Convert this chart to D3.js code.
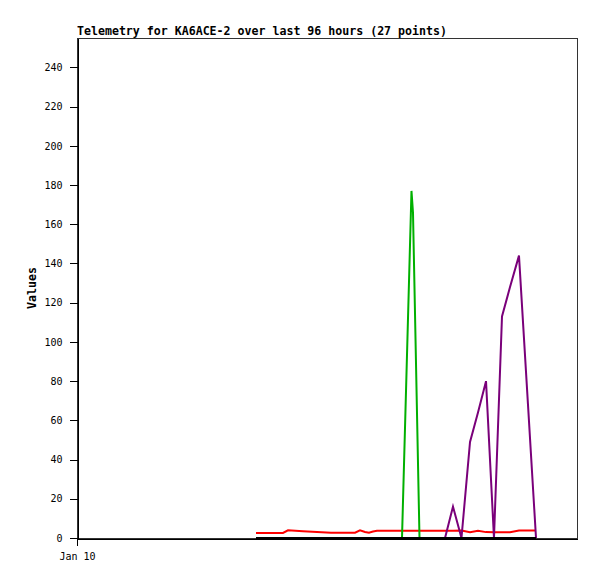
<!DOCTYPE html>
<html>
<head>
<meta charset="utf-8">
<script src="https://cdn.jsdelivr.net/npm/d3@7"></script>
<style>
  body { margin: 0; background: #fff; }
  svg { display: block; }
  text { font-family: "DejaVu Sans Mono", "Liberation Mono", monospace; }
</style>
</head>
<body>
<svg id="chart" width="597" height="579"></svg>
<script>
// ---- data ----
const titleText = "Telemetry for KA6ACE-2 over last 96 hours (27 points)";
const yLabel = "Values";
const startTime = new Date(2024, 0, 10, 0, 0, 0);
const windowHours = 96;
// hours after start time for each of the 27 points
const hours = [34.37, 39.55, 40.51, 43.39, 48.77, 53.38, 54.34, 55.30, 56.06, 56.83,
               57.60, 62.40, 64.22, 64.51, 65.76, 70.66, 72.19, 73.82, 75.46, 76.99,
               78.53, 80.06, 81.60, 83.14, 84.86, 86.59, 88.13];
const redValues = [2.6, 2.6, 3.9, 3.4, 2.7, 2.7, 3.9, 3.1, 2.7, 3.3,
                   3.7, 3.7, 3.7, 3.7, 3.7, 3.7, 3.7, 3.8, 3.0, 3.7,
                   3.0, 2.9, 2.9, 2.9, 3.8, 3.8, 3.8];
const greenValues = [0, 0, 0, 0, 0, 0, 0, 0, 0, 0,
                     0, 0, 177, 166, 0, 0, 0, 0, 0, 0,
                     0, 0, 0, 0, 0, 0, 0];
const purpleValues = [0, 0, 0, 0, 0, 0, 0, 0, 0, 0,
                      0, 0, 0, 0, 0, 0, 16, 0, 49, 64,
                      80, 0, 113, 128, 144, 68, 0];
const blackValues = [0, 0, 0, 0, 0, 0, 0, 0, 0, 0,
                     0, 0, 0, 0, 0, 0, 0, 0, 0, 0,
                     0, 0, 0, 0, 0, 0, 0];
const yTicks = [0, 20, 40, 60, 80, 100, 120, 140, 160, 180, 200, 220, 240];
const xTickLabels = ["Jan 10"];
const yMax = 255;

// series, in drawing order
const series = [
  { name: "red", values: redValues, color: "#ff0000" },
  { name: "green", values: greenValues, color: "#00b000" },
  { name: "purple", values: purpleValues, color: "#7a007a" },
  { name: "black", values: blackValues, color: "#000000" }
];

// ---- layout ----
const mLeft = 77, mRight = 577, mTop = 38, mBottom = 538;
const svg = d3.select("#chart");

const times = hours.map(h => new Date(startTime.getTime() + h * 3600e3));
const x = d3.scaleTime()
  .domain([startTime, new Date(startTime.getTime() + windowHours * 3600e3)])
  .range([mLeft, mRight]);
const y = d3.scaleLinear().domain([0, yMax]).range([mBottom, mTop]);

// frame
svg.append("rect")
  .attr("x", mLeft + 0.5).attr("y", mTop + 0.5)
  .attr("width", mRight - mLeft).attr("height", mBottom - mTop)
  .attr("fill", "none").attr("stroke", "#333").attr("stroke-width", 1)
  .attr("shape-rendering", "crispEdges");

// y axis
const yAxis = svg.append("g")
  .attr("transform", `translate(${mLeft + 0.5},0)`)
  .call(d3.axisLeft(y).tickValues(yTicks).tickSize(8).tickSizeOuter(0).tickPadding(7)
        .tickFormat(d3.format("d")));
yAxis.select(".domain").attr("stroke", "#000").attr("shape-rendering", "crispEdges");
yAxis.selectAll(".tick line").attr("stroke", "#000").attr("shape-rendering", "crispEdges");
yAxis.selectAll(".tick text").attr("font-size", "10px").attr("fill", "#000")
  .style("font-family", "'DejaVu Sans Mono', monospace");

// x axis
const xAxis = svg.append("g")
  .attr("transform", `translate(0,${mBottom + 0.5})`)
  .call(d3.axisBottom(x).tickValues([startTime]).tickSize(7).tickSizeOuter(0).tickPadding(7)
        .tickFormat((d, i) => xTickLabels[i]));
xAxis.select(".domain").attr("stroke", "#000").attr("shape-rendering", "crispEdges");
xAxis.selectAll(".tick line").attr("stroke", "#000").attr("shape-rendering", "crispEdges");
xAxis.selectAll(".tick text").attr("font-size", "10px").attr("fill", "#000")
  .style("font-family", "'DejaVu Sans Mono', monospace");

// lines
const line = d3.line().x((d, i) => x(times[i])).y(d => y(d));
svg.append("g").selectAll("path")
  .data(series)
  .join("path")
  .attr("d", s => line(s.values))
  .attr("fill", "none")
  .attr("stroke", s => s.color)
  .attr("stroke-width", 2)
  .attr("stroke-linejoin", "miter");

// title
svg.append("text")
  .attr("x", mLeft).attr("y", 35)
  .attr("font-size", "11.6px").attr("font-weight", "bold")
  .text(titleText);

// y label
svg.append("text")
  .attr("transform", `translate(36,${(mTop + mBottom) / 2}) rotate(-90)`)
  .attr("text-anchor", "middle")
  .attr("font-size", "11.6px").attr("font-weight", "bold")
  .text(yLabel);
</script>
</body>
</html>
